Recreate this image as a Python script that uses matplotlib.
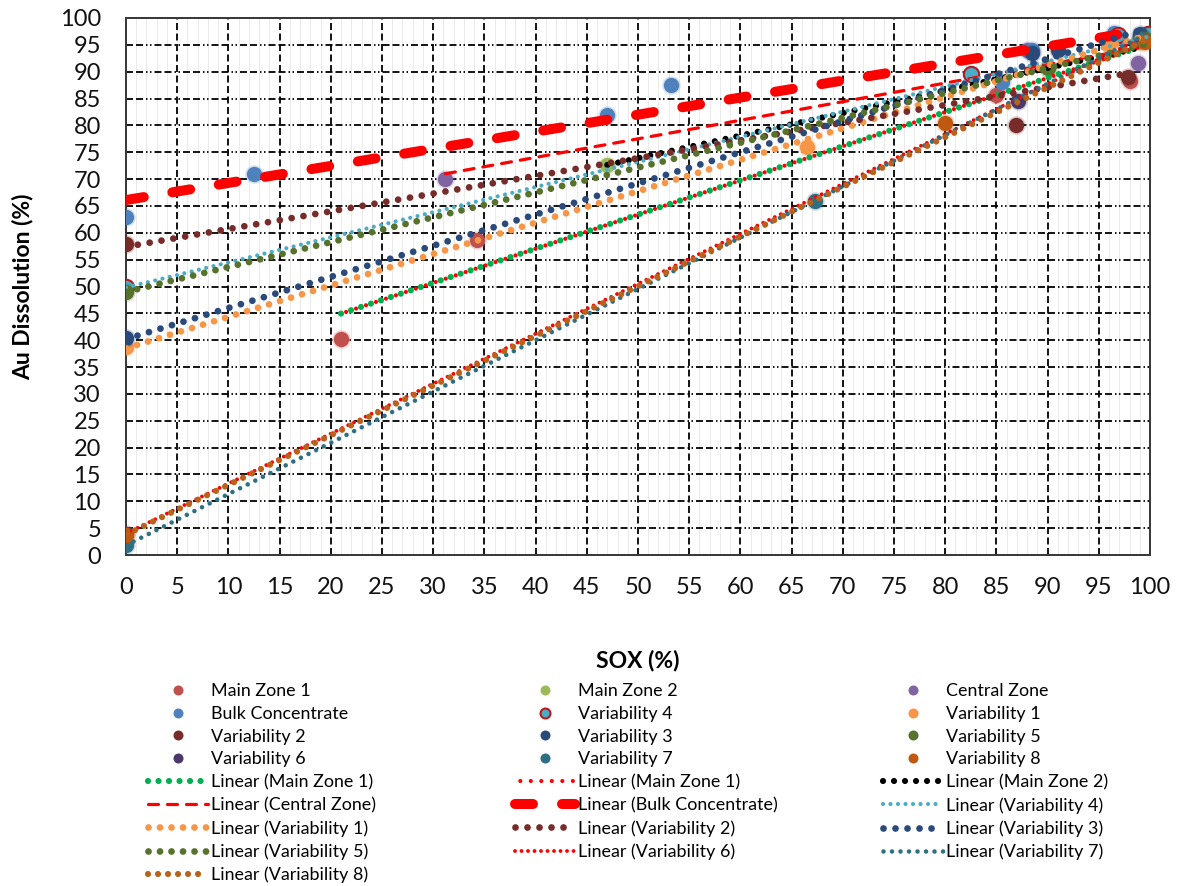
import matplotlib
matplotlib.use("Agg")
import matplotlib.pyplot as plt
from matplotlib.lines import Line2D
from matplotlib.ticker import MultipleLocator
import numpy as np

plt.rcParams['font.family'] = ['Lato', 'DejaVu Sans']

W, H, DPI = 1177, 886, 100
PT = 72.0 / DPI  # points per pixel

# ---- SOX (%) vs Au dissolution (%) for each sample ----
main_zone_1_x = [21.0, 34.3, 85.0, 98.0]
main_zone_1_y = [40.3, 58.7, 85.7, 88.2]
main_zone_2_x = [47.0, 90.0, 99.0]
main_zone_2_y = [72.7, 90.6, 96.0]
central_zone_x = [31.2, 88.0, 98.8]
central_zone_y = [70.0, 94.0, 91.7]
bulk_conc_x = [0.0, 12.5, 47.0, 53.2, 85.5, 88.5, 96.5, 97.0]
bulk_conc_y = [63.0, 71.0, 82.0, 87.6, 88.0, 94.0, 97.2, 96.5]
var_4_x = [0.0, 82.5, 96.9, 99.8]
var_4_y = [50.0, 89.5, 96.8, 97.0]
var_1_x = [0.0, 66.5, 96.0, 99.0]
var_1_y = [38.7, 76.0, 95.0, 95.5]
var_2_x = [0.0, 86.9, 97.9]
var_2_y = [58.0, 80.0, 89.0]
var_3_x = [0.0, 88.5, 91.0, 99.0]
var_3_y = [40.5, 93.5, 94.0, 97.0]
var_5_x = [0.0, 90.0, 99.5]
var_5_y = [49.0, 90.7, 96.0]
var_6_x = [0.0, 87.1, 99.0]
var_6_y = [4.0, 84.6, 96.0]
var_7_x = [0.0, 67.3, 99.0]
var_7_y = [1.8, 66.0, 96.0]
var_8_x = [0.0, 80.0, 99.5]
var_8_y = [3.7, 80.5, 95.5]

series_names = ["Main Zone 1", "Main Zone 2", "Central Zone", "Bulk Concentrate",
                "Variability 4", "Variability 1", "Variability 2", "Variability 3",
                "Variability 5", "Variability 6", "Variability 7", "Variability 8"]
series_x = [main_zone_1_x, main_zone_2_x, central_zone_x, bulk_conc_x, var_4_x, var_1_x,
            var_2_x, var_3_x, var_5_x, var_6_x, var_7_x, var_8_x]
series_y = [main_zone_1_y, main_zone_2_y, central_zone_y, bulk_conc_y, var_4_y, var_1_y,
            var_2_y, var_3_y, var_5_y, var_6_y, var_7_y, var_8_y]

# linear trend fits: intercept and slope per series
trend_intercept = {"Main Zone 1": 31.6, "Main Zone 2": 52.9, "Central Zone": 60.2,
                   "Bulk Concentrate": 66.1, "Variability 4": 49.8, "Variability 1": 38.5,
                   "Variability 2": 57.4, "Variability 3": 40.2, "Variability 5": 49.0,
                   "Variability 6": 4.0, "Variability 7": 1.8, "Variability 8": 3.8}
trend_slope = {"Main Zone 1": 0.636, "Main Zone 2": 0.420, "Central Zone": 0.346,
               "Bulk Concentrate": 0.318, "Variability 4": 0.468, "Variability 1": 0.585,
               "Variability 2": 0.330, "Variability 3": 0.580, "Variability 5": 0.463,
               "Variability 6": 0.930, "Variability 7": 0.955, "Variability 8": 0.925}

x_ticks = list(range(0, 101, 5))
y_ticks = list(range(0, 101, 5))

# ---- styles ----
marker_face = {"Main Zone 1": "#C0504D", "Main Zone 2": "#9BBB59", "Central Zone": "#8064A2",
               "Bulk Concentrate": "#4F81BD", "Variability 4": "#4BACC6",
               "Variability 1": "#F79646", "Variability 2": "#772C2A",
               "Variability 3": "#2A4A7B", "Variability 5": "#56722C",
               "Variability 6": "#4A3868", "Variability 7": "#2D6F83",
               "Variability 8": "#C0590F"}
marker_edge = dict(marker_face)
marker_edge["Variability 4"] = "#C0151B"


def dotted(period_px, lw_px, offset_px=0.0):
    return (offset_px / lw_px, (0.001, period_px / lw_px))


def dashed(on_px, off_px, lw_px):
    return (0, (on_px / lw_px, off_px / lw_px))


# (series, colour, line width px, linestyle)
trend_styles = [
    ("Main Zone 1", "#00B050", 6.2, dotted(10.5, 6.2)),
    ("Main Zone 1", "#FF0000", 4.2, dotted(10.5, 4.2, 5.2)),
    ("Main Zone 2", "#000000", 6.2, dotted(11.0, 6.2)),
    ("Central Zone", "#FF0000", 3.2, dashed(10.0, 9.0, 3.2)),
    ("Bulk Concentrate", "#FF0000", 10.0, dashed(18.0, 29.0, 10.0)),
    ("Variability 4", "#4BACC6", 4.2, dotted(7.5, 4.2)),
    ("Variability 1", "#F79646", 6.8, dotted(11.5, 6.8)),
    ("Variability 2", "#772C2A", 6.8, dotted(12.0, 6.8)),
    ("Variability 3", "#2A4A7B", 6.8, dotted(12.0, 6.8)),
    ("Variability 5", "#56722C", 6.8, dotted(11.5, 6.8)),
    ("Variability 6", "#FF0000", 3.9, dotted(6.5, 3.9)),
    ("Variability 7", "#2D6F83", 4.6, dotted(8.5, 4.6)),
    ("Variability 8", "#B8621C", 6.2, dotted(10.0, 6.2)),
]

fig = plt.figure(figsize=(W / DPI, H / DPI), dpi=DPI)
ax = fig.add_axes([126 / W, 1 - 555 / H, (1150 - 126) / W, (555 - 18) / H])

ax.set_xlim(0, 100)
ax.set_ylim(0, 100)
ax.set_xticks(x_ticks)
ax.set_yticks(y_ticks)
ax.xaxis.set_minor_locator(MultipleLocator(1))
ax.set_axisbelow(True)

# grid: light minor verticals, dashed major verticals, dash-dot-dot horizontals
ax.grid(which="minor", axis="x", color="#EAEAEA", lw=1.0 * PT)
grid_lw = 1.8
ax.grid(which="major", axis="x", color="#000000", lw=grid_lw * PT,
        linestyle=(0, (7 / grid_lw, 3.5 / grid_lw)))
ax.grid(which="major", axis="y", color="#000000", lw=grid_lw * PT,
        linestyle=(0, (7 / grid_lw, 3 / grid_lw, 7 / grid_lw, 3 / grid_lw,
                       1.5 / grid_lw, 2.5 / grid_lw, 1.5 / grid_lw, 3 / grid_lw)))

for sp in ax.spines.values():
    sp.set_color("#3A3A3A")
    sp.set_linewidth(2.0 * PT)

ax.tick_params(which="both", length=0)
ax.tick_params(axis="y", pad=25 * PT, labelsize=17, labelcolor="#111111")
ax.tick_params(axis="x", pad=22 * PT, labelsize=17, labelcolor="#111111")

# scatter points with a soft halo
pt_size = (11.0) ** 2
for name, xs, ys in zip(series_names, series_x, series_y):
    ax.scatter(xs, ys, s=pt_size * 1.45, color=marker_face[name], alpha=0.25,
               linewidths=0, zorder=3)
    ew = 2.0 * PT if name == "Variability 4" else 0
    ax.scatter(xs, ys, s=pt_size, facecolor=marker_face[name],
               edgecolor=marker_edge[name], linewidths=ew, zorder=3)

# linear trendlines across each series' SOX range
lookup = dict(zip(series_names, series_x))
for name, col, lw, ls in trend_styles:
    xs = np.array([min(lookup[name]), max(lookup[name])])
    ys = trend_intercept[name] + trend_slope[name] * xs
    ax.plot(xs, ys, color=col, lw=lw * PT, linestyle=ls, dash_capstyle="round",
            solid_capstyle="round", zorder=4)

ax.set_xlabel("SOX (%)", fontsize=16.5, fontweight="bold")
ax.set_ylabel("Au Dissolution (%)", fontsize=16.5, fontweight="bold")
ax.xaxis.set_label_coords(0.5, (555 - 650) / 537)
ax.yaxis.set_label_coords((33 - 126) / 1024, 0.5)

# ---- legend: three columns filled row by row ----
entries = []
for name in series_names:
    h = Line2D([], [], linestyle="none", marker="o", markersize=10 * PT,
               markerfacecolor=marker_face[name], markeredgecolor=marker_edge[name],
               markeredgewidth=(2.0 * PT if name == "Variability 4" else 0))
    entries.append((h, name))
for name, col, lw, ls in trend_styles:
    h = Line2D([], [], color=col, lw=lw * PT, linestyle=ls, dash_capstyle="round",
               solid_capstyle="round")
    entries.append((h, f"Linear ({name})"))

leg_fs = 12.9
fs_px = leg_fs / PT
col_text_x = [211, 578, 946]
handle_px = 60
gap_px = 3
for c in range(3):
    col_entries = entries[c::3]
    left = col_text_x[c] - handle_px - gap_px
    fig.legend([e[0] for e in col_entries], [e[1] for e in col_entries],
               loc="upper left", bbox_to_anchor=(left / W, 1 - 683 / H),
               bbox_transform=fig.transFigure, frameon=False, borderpad=0,
               borderaxespad=0, fontsize=leg_fs, handlelength=handle_px / fs_px,
               handletextpad=gap_px / fs_px, labelspacing=0.38, handleheight=0.7)

fig.savefig("out.png", dpi=DPI, facecolor="white")
